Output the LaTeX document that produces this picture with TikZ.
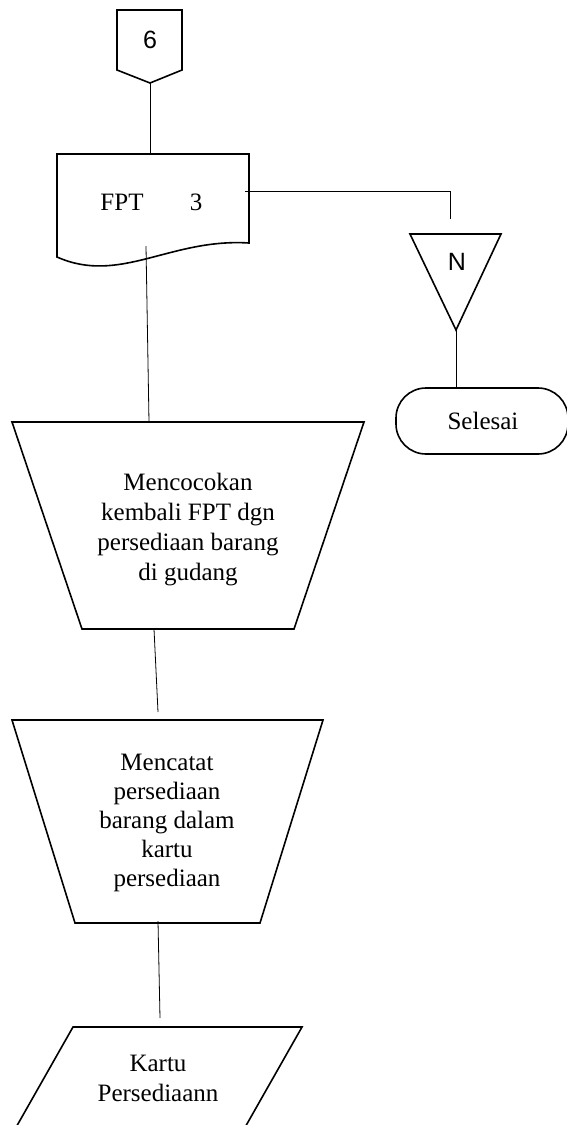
\documentclass[tikz,border=0pt]{standalone}
\usepackage{fontspec}
\setmainfont{Liberation Serif}
\newfontfamily\sansf{Liberation Sans}
\begin{document}
\begin{tikzpicture}[x=1pt,y=-1pt,
  shapeline/.style={line width=1.6pt,line join=miter},
  link/.style={line width=0.8pt},
  label/.style={inner sep=0pt,align=center,font=\fontsize{25}{30}\selectfont},
  sanslabel/.style={inner sep=0pt,font=\sansf\fontsize{25}{30}\selectfont}]
\useasboundingbox (0,0) rectangle (567,1125);

% off-page connector 6
\draw[shapeline] (117,10) -- (182,10) -- (182,70) -- (150,83) -- (117,70) -- cycle;
\node[sanslabel] (six) at (150,40) {6};
\coordinate (sixOut) at (150,83);

% document FPT 3
\draw[shapeline] (57,154) -- (249,154) -- (249,243)
  .. controls (170,238) and (120,285) .. (57,257) -- cycle;
\node[label] (fpt) at (122,202) {FPT};
\node[label] (three) at (196,202) {3};
\coordinate (docIn) at (150,154);
\coordinate (docRight) at (245,191);
\coordinate (docDown) at (146,246);

% off-page connector N
\draw[shapeline] (410,234) -- (501,234) -- (456,330) -- cycle;
\node[sanslabel] (nlab) at (457,262) {N};
\coordinate (nCorner) at (450,191);
\coordinate (nIn) at (450,219);
\coordinate (nOut) at (456,330);

% terminator
\draw[shapeline,rounded corners=30pt] (396,388) rectangle (568,454);
\node[label] (selesai) at (483,421) {Selesai};
\coordinate (endIn) at (456,388);

% manual operation 1
\draw[shapeline] (12,422) -- (364,422) -- (294,629) -- (82,629) -- cycle;
\node[label] (cocok) at (188,530) {Mencocokan\\kembali FPT dgn\\persediaan barang\\di gudang};
\coordinate (op1In) at (149,422);
\coordinate (op1Out) at (154,629);

% manual operation 2
\draw[shapeline] (12,720) -- (323,720) -- (260,923) -- (75,923) -- cycle;
\node[label,font=\fontsize{25}{29}\selectfont] (catat) at (167,823) {Mencatat\\persediaan\\barang dalam\\kartu\\persediaan};
\coordinate (op2In) at (158,712);
\coordinate (op2Out) at (158,921);

% data record
\draw[shapeline] (73,1027) -- (302,1027) -- (235,1145) -- (6,1145) -- cycle;
\node[label] (kartu) at (158,1078) {Kartu\\Persediaann};
\coordinate (cardIn) at (160,1018);

% connectors
\draw[link] (sixOut) -- (docIn);
\draw[link] (docRight) -- (nCorner) -- (nIn);
\draw[link] (nOut) -- (endIn);
\draw[link] (docDown) -- (op1In);
\draw[link] (op1Out) -- (op2In);
\draw[link] (op2Out) -- (cardIn);
\end{tikzpicture}
\end{document}
